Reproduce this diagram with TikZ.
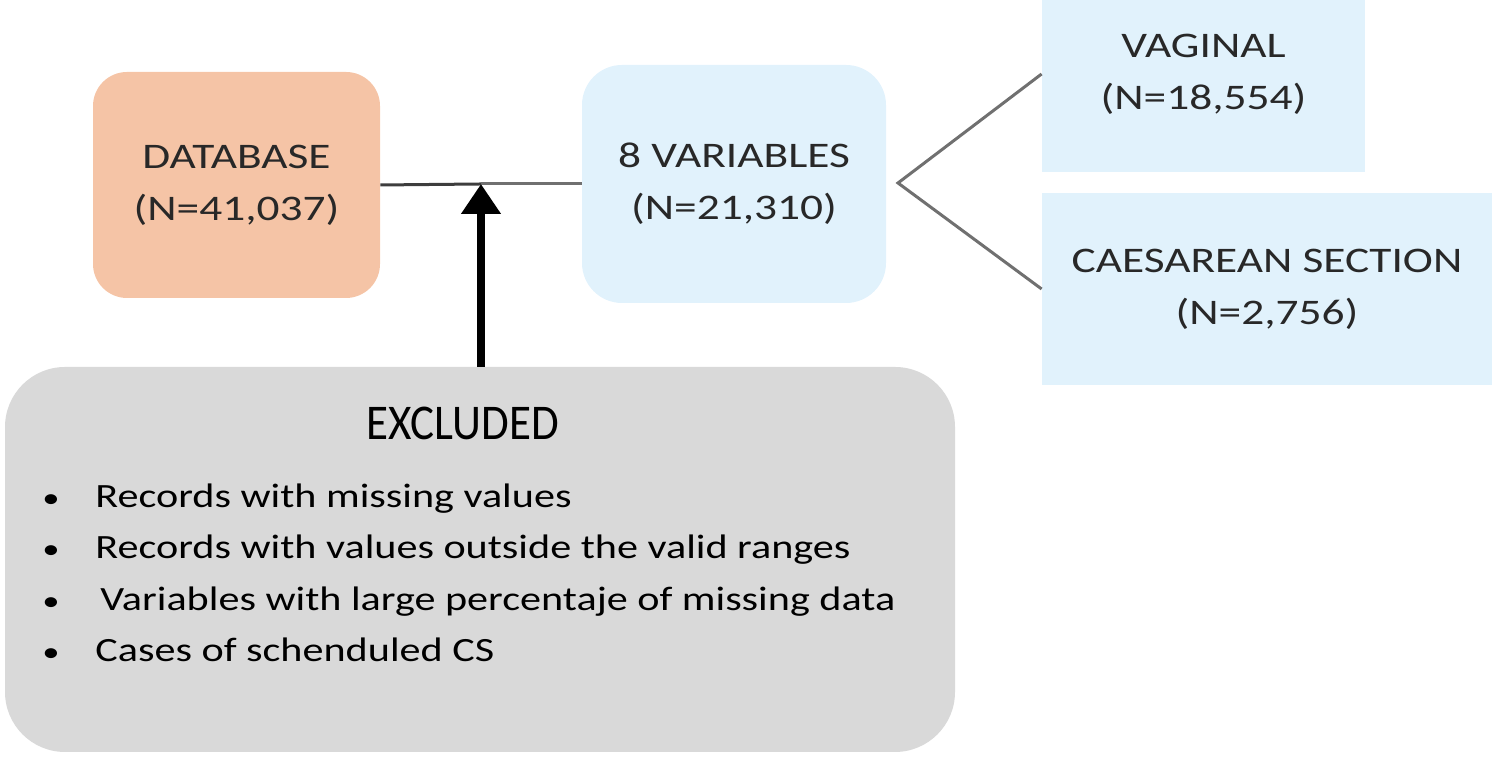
\documentclass[tikz,border=0pt]{standalone}
\usepackage{fontspec}
\setmainfont{Carlito}
\newfontfamily\boxfont[FakeStretch=1.26]{Carlito}
\newfontfamily\headfont[FakeStretch=0.9]{Carlito}
\newfontfamily\listfont[FakeStretch=1.24]{Carlito}
\usetikzlibrary{arrows.meta}
\definecolor{dbfill}{RGB}{245,196,166}
\definecolor{varfill}{RGB}{225,242,252}
\definecolor{exfill}{RGB}{217,217,217}
\definecolor{linegray}{RGB}{112,112,112}
\definecolor{textgray}{RGB}{40,40,40}
\newcommand{\dotmark}{{\fontsize{14pt}{14pt}\selectfont\textbullet}}
\tikzset{
	box/.style={rectangle, inner sep=0pt, align=center, text=textgray,
		font=\boxfont\fontsize{18pt}{26pt}\selectfont},
	item/.style={anchor=base west, inner sep=0pt, font=\listfont\fontsize{17pt}{26pt}\selectfont}
}
\begin{document}
\begin{tikzpicture}[x=0.5pt, y=0.5pt]
	\useasboundingbox (0,0) rectangle (1500,758);
	% Kaesten
	\node[box, fill=dbfill, rounded corners=17pt, minimum width=143.5pt, minimum height=113pt]
		(db) at (236.5,573) {DATABASE\\(N=41,037)};
	\node[box, fill=varfill, rounded corners=20pt, minimum width=152pt, minimum height=119pt]
		(vars) at (734,574) {8 VARIABLES\\(N=21,310)};
	\node[box, fill=varfill, minimum width=161.5pt, minimum height=98pt]
		(vag) at (1203.5,684) {VAGINAL\\(N=18,554)};
	\node[box, fill=varfill, minimum width=225pt, minimum height=96pt]
		(cs) at (1267,469) {CAESAREAN SECTION\\(N=2,756)};
	\node[rectangle, fill=exfill, rounded corners=30pt, minimum width=475pt, minimum height=192.5pt]
		(excl) at (480,198.5) {};
	% Text Ausschluss
	\node[anchor=base, inner sep=0pt, font=\headfont\fontsize{25pt}{30pt}\selectfont]
		(head) at (463,318) {EXCLUDED};
	\node[item] (item1) at (42,250) {\makebox[26.5pt][l]{\dotmark}Records with missing values};
	\node[item] (item2) at (42,199) {\makebox[26.5pt][l]{\dotmark}Records with values outside the valid ranges};
	\node[item] (item3) at (42,147) {\makebox[29pt][l]{\dotmark}Variables with large percentaje of missing data};
	\node[item] (item4) at (42,96) {\makebox[26.5pt][l]{\dotmark}Cases of schenduled CS};
	% Verbindungen
	\coordinate (join) at (481,574);
	\coordinate (fork) at (898,575);
	\draw [line width=1.5pt, textgray!90] (db.east) -- (join);
	\draw [line width=1.5pt, linegray] (join) -- (vars.west);
	\draw [line width=1.5pt, linegray] (vag.west) -- (fork) -- (cs.west);
	% Pfeil
	\draw [line width=3.8pt, -{Triangle[width=19pt, length=15pt]}] (excl.north -| join) -- (join);
\end{tikzpicture}
\end{document}
